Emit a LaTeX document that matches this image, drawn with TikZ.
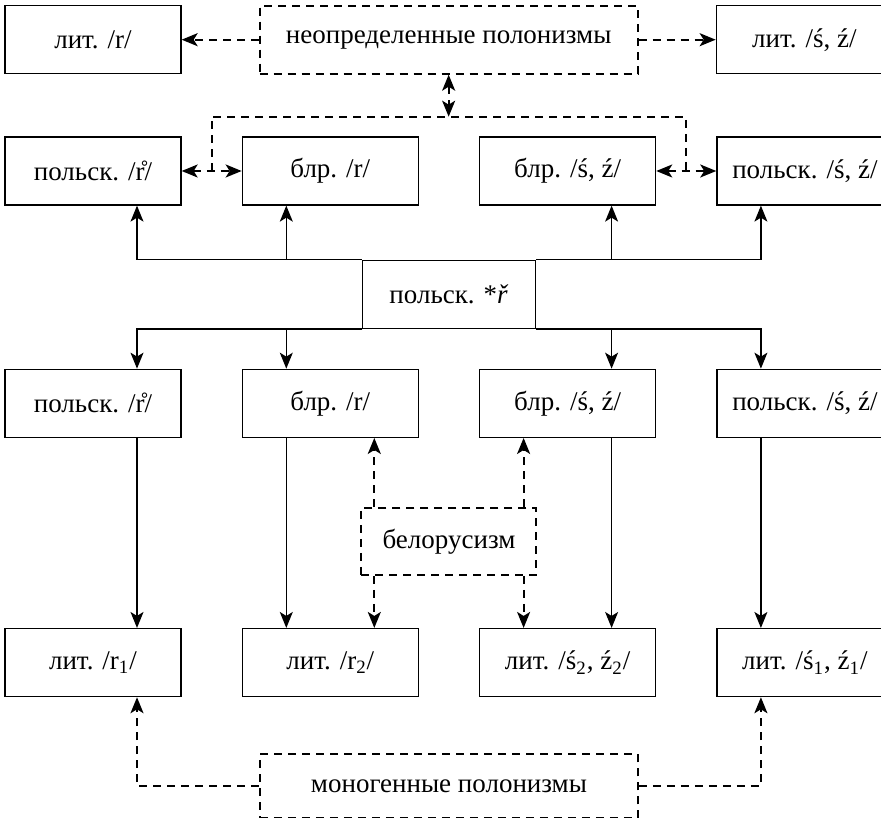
\documentclass[tikz,border=0pt]{standalone}
\usepackage{fontspec}
\setmainfont{Liberation Serif}
\usetikzlibrary{positioning,arrows.meta,calc}

\begin{document}
\begin{tikzpicture}[
  box/.style={draw, line width=0.65pt, minimum width=88pt, minimum height=34pt, inner sep=2pt, font=\fontsize{13.5}{15}\selectfont},
  dbox/.style={box, line width=1pt, dash pattern=on 4pt off 3pt},
  arr/.style={-{Stealth[length=8pt, width=6.5pt, inset=2pt]}, line width=0.65pt},
  darr/.style={arr, line width=1pt, dash pattern=on 4pt off 3pt},
  darr2/.style={darr, {Stealth[length=8pt, width=6.5pt, inset=2pt]}-{Stealth[length=8pt, width=6.5pt, inset=2pt]}},
  dline/.style={line width=1pt, dash pattern=on 4pt off 3pt},
  node distance=31pt and 30pt]
\useasboundingbox (0,0) rectangle (440.5pt,-408.5pt);
\node[box] (pr1) at (46.5pt,-85.5pt) {польск. /\r{r}/};
\node[box, right=of pr1] (br1) {блр. /r/};
\node[box, right=of br1] (bs1) {блр. /ś, ź/};
\node[box, right=of bs1] (ps1) {польск. /ś, ź/};
\node[box, above=of pr1] (lr) {лит. /r/};
\node[dbox, minimum width=189pt, right=38.5pt of lr] (neo) {неопределенные полонизмы};
\node[box, right=38.5pt of neo] (ls) {лит. /ś, ź/};
\coordinate (m1) at ($(br1.south)!.5!(bs1.south)$);
\node[box, minimum width=86.5pt, below=27pt of m1] (pol) {польск. *\textit{ř}};
\node[box, below=81.5pt of pr1] (pr2) {польск. /\r{r}/};
\node[box, right=of pr2] (br2) {блр. /r/};
\node[box, right=of br2] (bs2) {блр. /ś, ź/};
\node[box, right=of bs2] (ps2) {польск. /ś, ź/};
\node[box, below=95pt of pr2] (lr1) {лит. /r\textsubscript{1}/};
\node[box, right=of lr1] (lr2) {лит. /r\textsubscript{2}/};
\node[box, right=of lr2] (ls2) {лит. /ś\textsubscript{2}, ź\textsubscript{2}/};
\node[box, right=of ls2] (ls1) {лит. /ś\textsubscript{1}, ź\textsubscript{1}/};
\coordinate (m3) at ($(br2.south)!.5!(bs2.south)$);
\node[dbox, minimum width=87.5pt, minimum height=33.5pt, below=34.5pt of m3] (bel) {белорусизм};
\coordinate (m4) at ($(lr2.south)!.5!(ls2.south)$);
\node[dbox, minimum width=189pt, minimum height=32pt, below=28pt of m4] (mono) {моногенные полонизмы};
\coordinate[below=21pt of neo] (jn);
\draw[darr] (neo) -- (lr);
\draw[darr] (neo) -- (ls);
\draw[darr2] (neo) -- (jn);
\draw[dline] ($(pr1.east)!.5!(br1.west)$) |- (jn) -| ($(bs1.east)!.5!(ps1.west)$);
\draw[darr2] (pr1) -- (br1);
\draw[darr2] (bs1) -- (ps1);
\draw[arr] (pol.north west) -| ([xshift=22pt]pr1.south);
\draw[arr] (pol.north west) -| ([xshift=-22pt]br1.south);
\draw[arr] (pol.north east) -| ([xshift=22pt]bs1.south);
\draw[arr] (pol.north east) -| ([xshift=-22pt]ps1.south);
\draw[arr] (pol.south west) -| ([xshift=22pt]pr2.north);
\draw[arr] (pol.south west) -| ([xshift=-22pt]br2.north);
\draw[arr] (pol.south east) -| ([xshift=22pt]bs2.north);
\draw[arr] (pol.south east) -| ([xshift=-22pt]ps2.north);
\draw[arr] ([xshift=22pt]pr2.south) -- ([xshift=22pt]lr1.north);
\draw[arr] ([xshift=-22pt]br2.south) -- ([xshift=-22pt]lr2.north);
\draw[arr] ([xshift=22pt]bs2.south) -- ([xshift=22pt]ls2.north);
\draw[arr] ([xshift=-22pt]ps2.south) -- ([xshift=-22pt]ls1.north);
\draw[darr] ([xshift=22pt]br2.south |- bel.north) -- ([xshift=22pt]br2.south);
\draw[darr] ([xshift=-22pt]bs2.south |- bel.north) -- ([xshift=-22pt]bs2.south);
\draw[darr] ([xshift=22pt]lr2.north |- bel.south) -- ([xshift=22pt]lr2.north);
\draw[darr] ([xshift=-22pt]ls2.north |- bel.south) -- ([xshift=-22pt]ls2.north);
\draw[darr] (mono.west) -| ([xshift=22pt]lr1.south);
\draw[darr] (mono.east) -| ([xshift=-22pt]ls1.south);
\end{tikzpicture}
\end{document}
